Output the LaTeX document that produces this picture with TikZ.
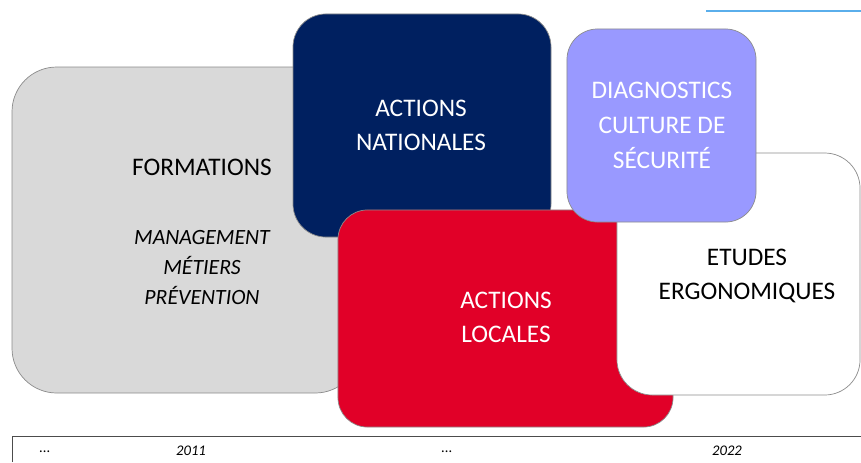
\documentclass[tikz,border=0pt]{standalone}
\usepackage{fontspec}
\setmainfont{Carlito}
\definecolor{grisclair}{HTML}{D9D9D9}
\definecolor{marine}{HTML}{002060}
\definecolor{rouge}{HTML}{E10028}
\definecolor{lavande}{HTML}{9999FF}
\definecolor{bleuciel}{HTML}{5AAEEB}
\begin{document}
\begin{tikzpicture}[x=0.85pt,y=-0.85pt]
	\tikzstyle{Box} = [rectangle, inner sep=0pt, draw=black!45, line width=0.6pt]
	\tikzstyle{Label} = [align=center, font=\fontsize{21.5}{29.5}\selectfont]
	\tikzstyle{Sub} = [align=center, font=\fontsize{18.5}{25.5}\selectfont\itshape]
	\tikzstyle{Year} = [font=\fontsize{12.5}{14}\selectfont\itshape]
	
	\useasboundingbox (0,0) rectangle (861,462);
	
	% the five blocks, back to front
	\node (formations) [Box, fill=grisclair, rounded corners=38pt, minimum width=295.8pt, minimum height=277.1pt] at (186,230) {};
	\node (nationales) [Box, fill=marine, rounded corners=28pt, minimum width=219.3pt, minimum height=189.6pt] at (422,125.5) {};
	\node (locales) [Box, fill=rouge, rounded corners=25pt, minimum width=284.8pt, minimum height=184.5pt] at (505.5,318.5) {};
	\node (etudes) [Box, fill=white, rounded corners=30pt, minimum width=206.6pt, minimum height=205.7pt] at (738.5,274) {};
	\node (diagnostics) [Box, fill=lavande, rounded corners=26pt, minimum width=160.7pt, minimum height=164.1pt] at (661.5,125.5) {};
	
	% texts
	\node (tformations) [Label] at (202,167) {FORMATIONS};
	\node (tmetiers) [Sub] at (202,268) {MANAGEMENT\\M\'ETIERS\\PR\'EVENTION};
	\node (tnationales) [Label, text=white] at (421,125.5) {ACTIONS\\NATIONALES};
	\node (tlocales) [Label, text=white] at (506,317.5) {ACTIONS\\LOCALES};
	\node (tetudes) [Label] at (747,276) {ETUDES\\ERGONOMIQUES};
	\node (tdiagnostics) [Label, text=white] at (662,125.5) {DIAGNOSTICS\\CULTURE DE\\S\'ECURIT\'E};
	
	% time axis
	\draw [black!70, line width=0.8pt] (12,462) -- (12,436) -- (861,436);
	\draw [bleuciel, line width=1pt] (706,11) -- (861,11);
	\node (t0) [Year] at (45,452) {...};
	\node (t1) [Year] at (191,451) {2011};
	\node (t2) [Year] at (447,452) {...};
	\node (t3) [Year] at (727,451) {2022};
\end{tikzpicture}
\end{document}
